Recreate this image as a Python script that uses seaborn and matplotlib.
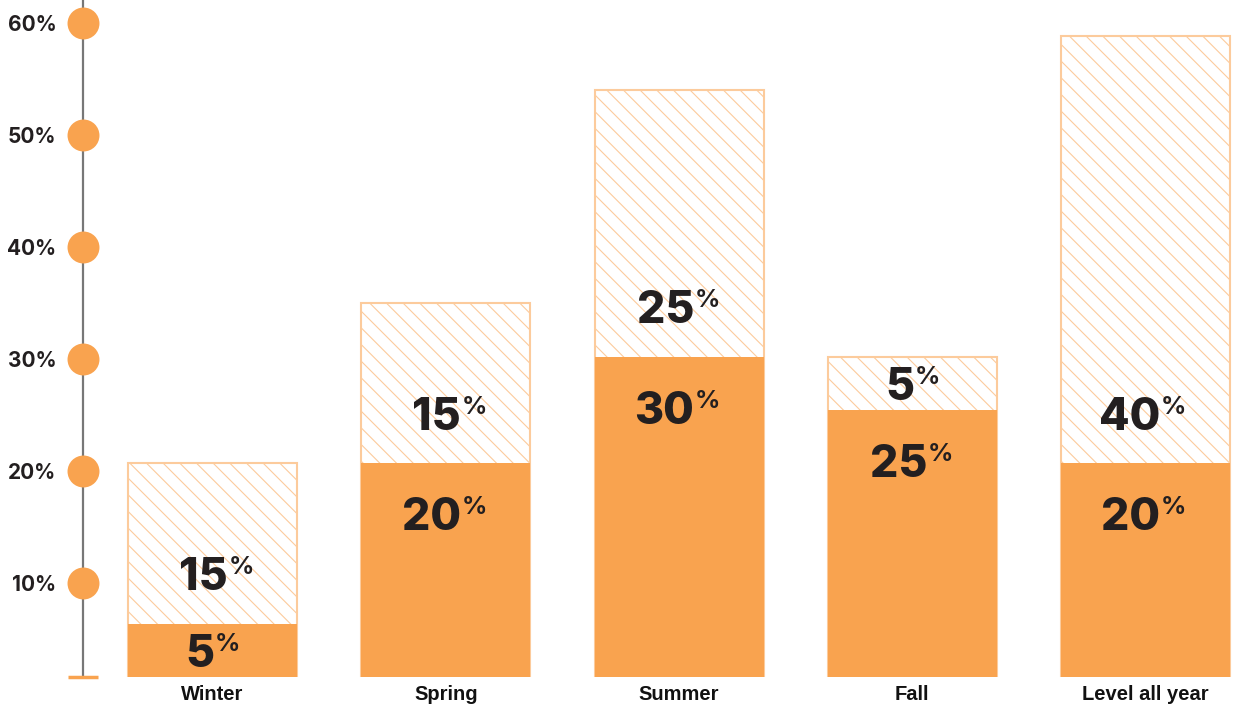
import matplotlib
matplotlib.use("Agg")
import matplotlib.pyplot as plt
import seaborn as sns
import pandas as pd

# valores (%)
estacoes = ["Winter", "Spring", "Summer", "Fall", "Level all year"]
solido = [5, 20, 30, 25, 20]
tracejado = [15, 15, 25, 5, 40]
yticks = [10, 20, 30, 40, 50, 60]

laranja = "#F9A34F"
laranja_claro = "#FCCB9C"
texto = "#231F20"
fonte = "Inter"

plt.rcParams["hatch.linewidth"] = 0.8

df = pd.DataFrame({
    "estacao": estacoes,
    "solido": solido,
    "total": [s + t for s, t in zip(solido, tracejado)],
})

fig = plt.figure(figsize=(12.35, 7.09), dpi=100)
ax = fig.add_axes([83 / 1235, 32 / 709, 1 - 83 / 1235, 677 / 709])

# barra total (hachurada) e parte sólida por cima
sns.barplot(data=df, x="estacao", y="total", order=estacoes, color="white",
            edgecolor=laranja_claro, linewidth=1.5, hatch="\\\\", width=0.725,
            saturation=1, errorbar=None, ax=ax)
sns.barplot(data=df, x="estacao", y="solido", order=estacoes, color=laranja,
            linewidth=0, width=0.725, saturation=1, errorbar=None, ax=ax)

x0, x1 = -0.556, 4.384
ax.set_xlim(x0, x1)
ax.set_ylim(0, 63.4)

for s in ["top", "right", "bottom", "left"]:
    ax.spines[s].set_visible(False)
ax.set_yticks([])
ax.tick_params(axis="x", length=0, pad=6)
for lbl in ax.get_xticklabels():
    lbl.set_family("Liberation Sans")
    lbl.set_fontweight("bold")
    lbl.set_fontsize(14.5)
    lbl.set_color("#111111")
ax.set_xlabel("")
ax.set_ylabel("")
ax.grid(False)
ax.set_facecolor("none")

# eixo y com bolinhas (escala própria, como no original)
eixo = ax.twinx()
y_base = 1.6
eixo.set_ylim(y_base, 62.05)
for s in ["top", "right", "bottom"]:
    eixo.spines[s].set_visible(False)
eixo.spines["left"].set_color("#777777")
eixo.spines["left"].set_linewidth(1.6)
eixo.spines["left"].set_zorder(0)
eixo.yaxis.tick_left()
eixo.plot([x0] * len(yticks), yticks, "o", ms=23, color=laranja, mec="none",
          clip_on=False, zorder=5)
eixo.plot([x0 - 15 / 233, x0 + 15 / 233], [y_base, y_base], color=laranja, lw=2.5,
          clip_on=False, solid_capstyle="butt", zorder=5)
eixo.set_yticks(yticks)
eixo.set_yticklabels([f"{v}%" for v in yticks], family=fonte,
                     fontweight="bold", fontsize=15, color=texto)
eixo.tick_params(axis="y", length=0, pad=19)

gap = 4.7  # ~50px em unidades de dado


def rotulo(x, y, valor):
    num = str(valor)
    desl = (len(num) * 26.5 - 23) / 2 * 0.72
    ax.annotate(num, (x, y), xytext=(desl, -12), textcoords="offset points",
                ha="right", va="baseline", family=fonte, fontweight=800,
                fontsize=32, color=texto, zorder=6)
    ax.annotate("%", (x, y), xytext=(desl + 0.5, -0.5), textcoords="offset points",
                ha="left", va="baseline", family=fonte, fontweight=700,
                fontsize=18, color=texto, zorder=6)


for i, (s, t) in enumerate(zip(solido, tracejado)):
    rotulo(i, s - min(gap, s / 2), s)
    rotulo(i, s + min(gap, t / 2), t)

fig.savefig("out.png", dpi=100)
